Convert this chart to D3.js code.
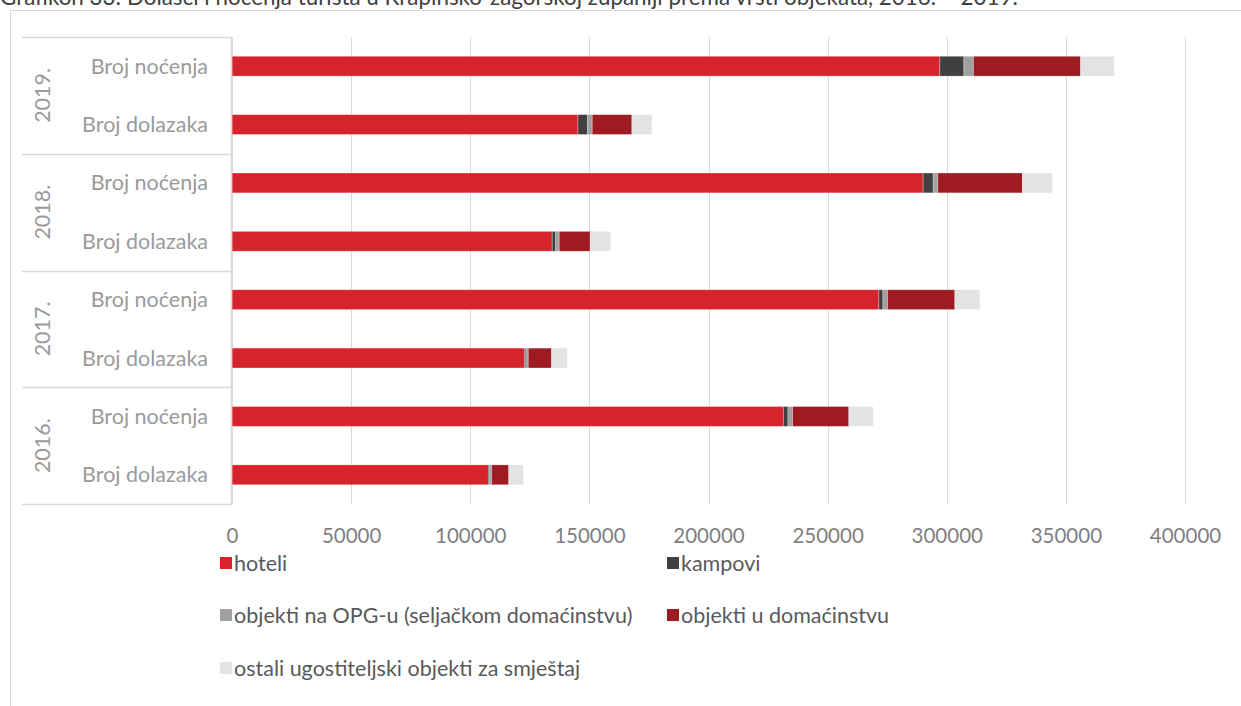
<!DOCTYPE html>
<html>
<head>
<meta charset="utf-8">
<script src="https://cdn.jsdelivr.net/npm/d3@7"></script>
<style>
  html, body { margin: 0; padding: 0; background: #ffffff; }
  svg { display: block; font-family: Lato, "Open Sans", sans-serif; }
</style>
</head>
<body>
<svg id="chart" width="1241" height="706"></svg>
<script>
// ---- data (rows top to bottom) ----
const years = ["2019.", "2018.", "2017.", "2016."];
const measures = ["Broj noćenja", "Broj dolazaka"];
const seriesNames = [
  "hoteli",
  "kampovi",
  "objekti na OPG-u (seljačkom domaćinstvu)",
  "objekti u domaćinstvu",
  "ostali ugostiteljski objekti za smještaj"
];
const hoteli      = [297100, 145200, 290100, 134400, 271500, 122800, 231400, 107600];
const kampovi     = [10100, 4050, 4200, 1450, 1700, 550, 1950, 570];
const opg         = [4000, 1950, 1950, 1500, 1950, 1000, 1950, 850];
const domacinstvo = [45000, 16650, 35500, 13000, 28250, 9800, 23600, 7150];
const ostali      = [14100, 8400, 12600, 8550, 10500, 6550, 10200, 6150];
const xTicks = [0, 50000, 100000, 150000, 200000, 250000, 300000, 350000, 400000];
const title = "Grafikon 33: Dolasci i noćenja turista u Krapinsko-zagorskoj županiji prema vrsti objekata, 2016. – 2019.";

const colors = ["#d7242c", "#404040", "#a0a0a0", "#9e1b21", "#e3e3e3"];
const seriesArrays = [hoteli, kampovi, opg, domacinstvo, ostali];

// build rows
const rows = [];
years.forEach((y, yi) => measures.forEach((m, mi) => {
  const idx = yi * measures.length + mi;
  const row = { id: y + "|" + m, year: y, measure: m };
  seriesNames.forEach((s, si) => row[s] = seriesArrays[si][idx]);
  rows.push(row);
}));

const svg = d3.select("#chart");
const FS = 21.5;

// outer border
svg.append("rect").attr("x", 10.5).attr("y", 10.5).attr("width", 1300).attr("height", 800)
  .attr("fill", "none").attr("stroke", "#d9d9d9").attr("stroke-width", 1);

// title (partially cut at top, as in reference)
svg.append("text").attr("x", 0).attr("y", 5).attr("font-size", 22.4).attr("fill", "#404040")
  .text(title);

const x = d3.scaleLinear().domain([0, 400000]).range([232, 1185]);
const y = d3.scaleBand().domain(rows.map(r => r.id)).range([37, 504]).paddingInner(0.66).paddingOuter(0.33);

// gridlines
svg.append("g").selectAll("line").data(xTicks).join("line")
  .attr("x1", d => Math.round(x(d)) + 0.5).attr("x2", d => Math.round(x(d)) + 0.5)
  .attr("y1", 37).attr("y2", 504)
  .attr("stroke", "#d9d9d9").attr("stroke-width", 1);

// x axis tick labels
const xAxis = d3.axisBottom(x).tickValues(xTicks).tickSize(0).tickPadding(0).tickFormat(d3.format("d"));
const gx = svg.append("g").attr("transform", "translate(0,536)").call(xAxis);
gx.select(".domain").remove();
gx.selectAll("text").attr("font-size", 20.5).attr("fill", "#7f7f7f")
  .attr("font-family", "Lato, 'Open Sans', sans-serif").attr("y", 0).attr("dy", "0.35em");

// stacked bars
const stack = d3.stack().keys(seriesNames);
const stacked = stack(rows);
svg.append("g").selectAll("g").data(stacked).join("g")
  .attr("fill", (d, i) => colors[i])
  .selectAll("rect").data(d => d).join("rect")
  .attr("x", d => x(d[0]))
  .attr("width", d => x(d[1]) - x(d[0]))
  .attr("y", d => y(d.data.id))
  .attr("height", y.bandwidth())
  .attr("stroke", "rgba(255,255,255,0.35)").attr("stroke-width", 0.8);

// category axis box
const yTop = 37, yBottom = 504, groupH = (yBottom - yTop) / years.length;
const boxG = svg.append("g");
d3.range(years.length + 1).forEach(i => {
  const yy = Math.round(yTop + i * groupH) + 0.5;
  boxG.append("line").attr("x1", 22).attr("x2", 232).attr("y1", yy).attr("y2", yy)
    .attr("stroke", "#d9d9d9").attr("stroke-width", 1.5);
});
boxG.append("line").attr("x1", 231.5).attr("x2", 231.5).attr("y1", yTop).attr("y2", yBottom)
  .attr("stroke", "#d9d9d9").attr("stroke-width", 1.5);

// measure labels
svg.append("g").selectAll("text").data(rows).join("text")
  .attr("x", 208).attr("y", d => y(d.id) + y.bandwidth() / 2)
  .attr("dy", "0.35em").attr("text-anchor", "end")
  .attr("font-size", FS).attr("fill", "#9a9a9a").text(d => d.measure);

// year labels
years.forEach((yr, i) => {
  const cy = yTop + (i + 0.5) * groupH;
  svg.append("text").attr("transform", `translate(50,${cy}) rotate(-90)`)
    .attr("text-anchor", "middle").attr("font-size", FS).attr("fill", "#9a9a9a").text(yr);
});

// legend
const legendItems = [
  { name: seriesNames[0], c: colors[0], x: 220, y: 563 },
  { name: seriesNames[1], c: colors[1], x: 667, y: 563 },
  { name: seriesNames[2], c: colors[2], x: 220, y: 615 },
  { name: seriesNames[3], c: colors[3], x: 667, y: 615 },
  { name: seriesNames[4], c: colors[4], x: 220, y: 668 }
];
const lg = svg.append("g").selectAll("g").data(legendItems).join("g")
  .attr("transform", d => `translate(${d.x},${d.y})`);
lg.append("rect").attr("x", 0).attr("y", -6).attr("width", 12).attr("height", 12).attr("fill", d => d.c);
lg.append("text").attr("x", 14).attr("y", 0).attr("dy", "0.35em")
  .attr("font-size", FS).attr("fill", "#595959").text(d => d.name);
</script>
</body>
</html>
